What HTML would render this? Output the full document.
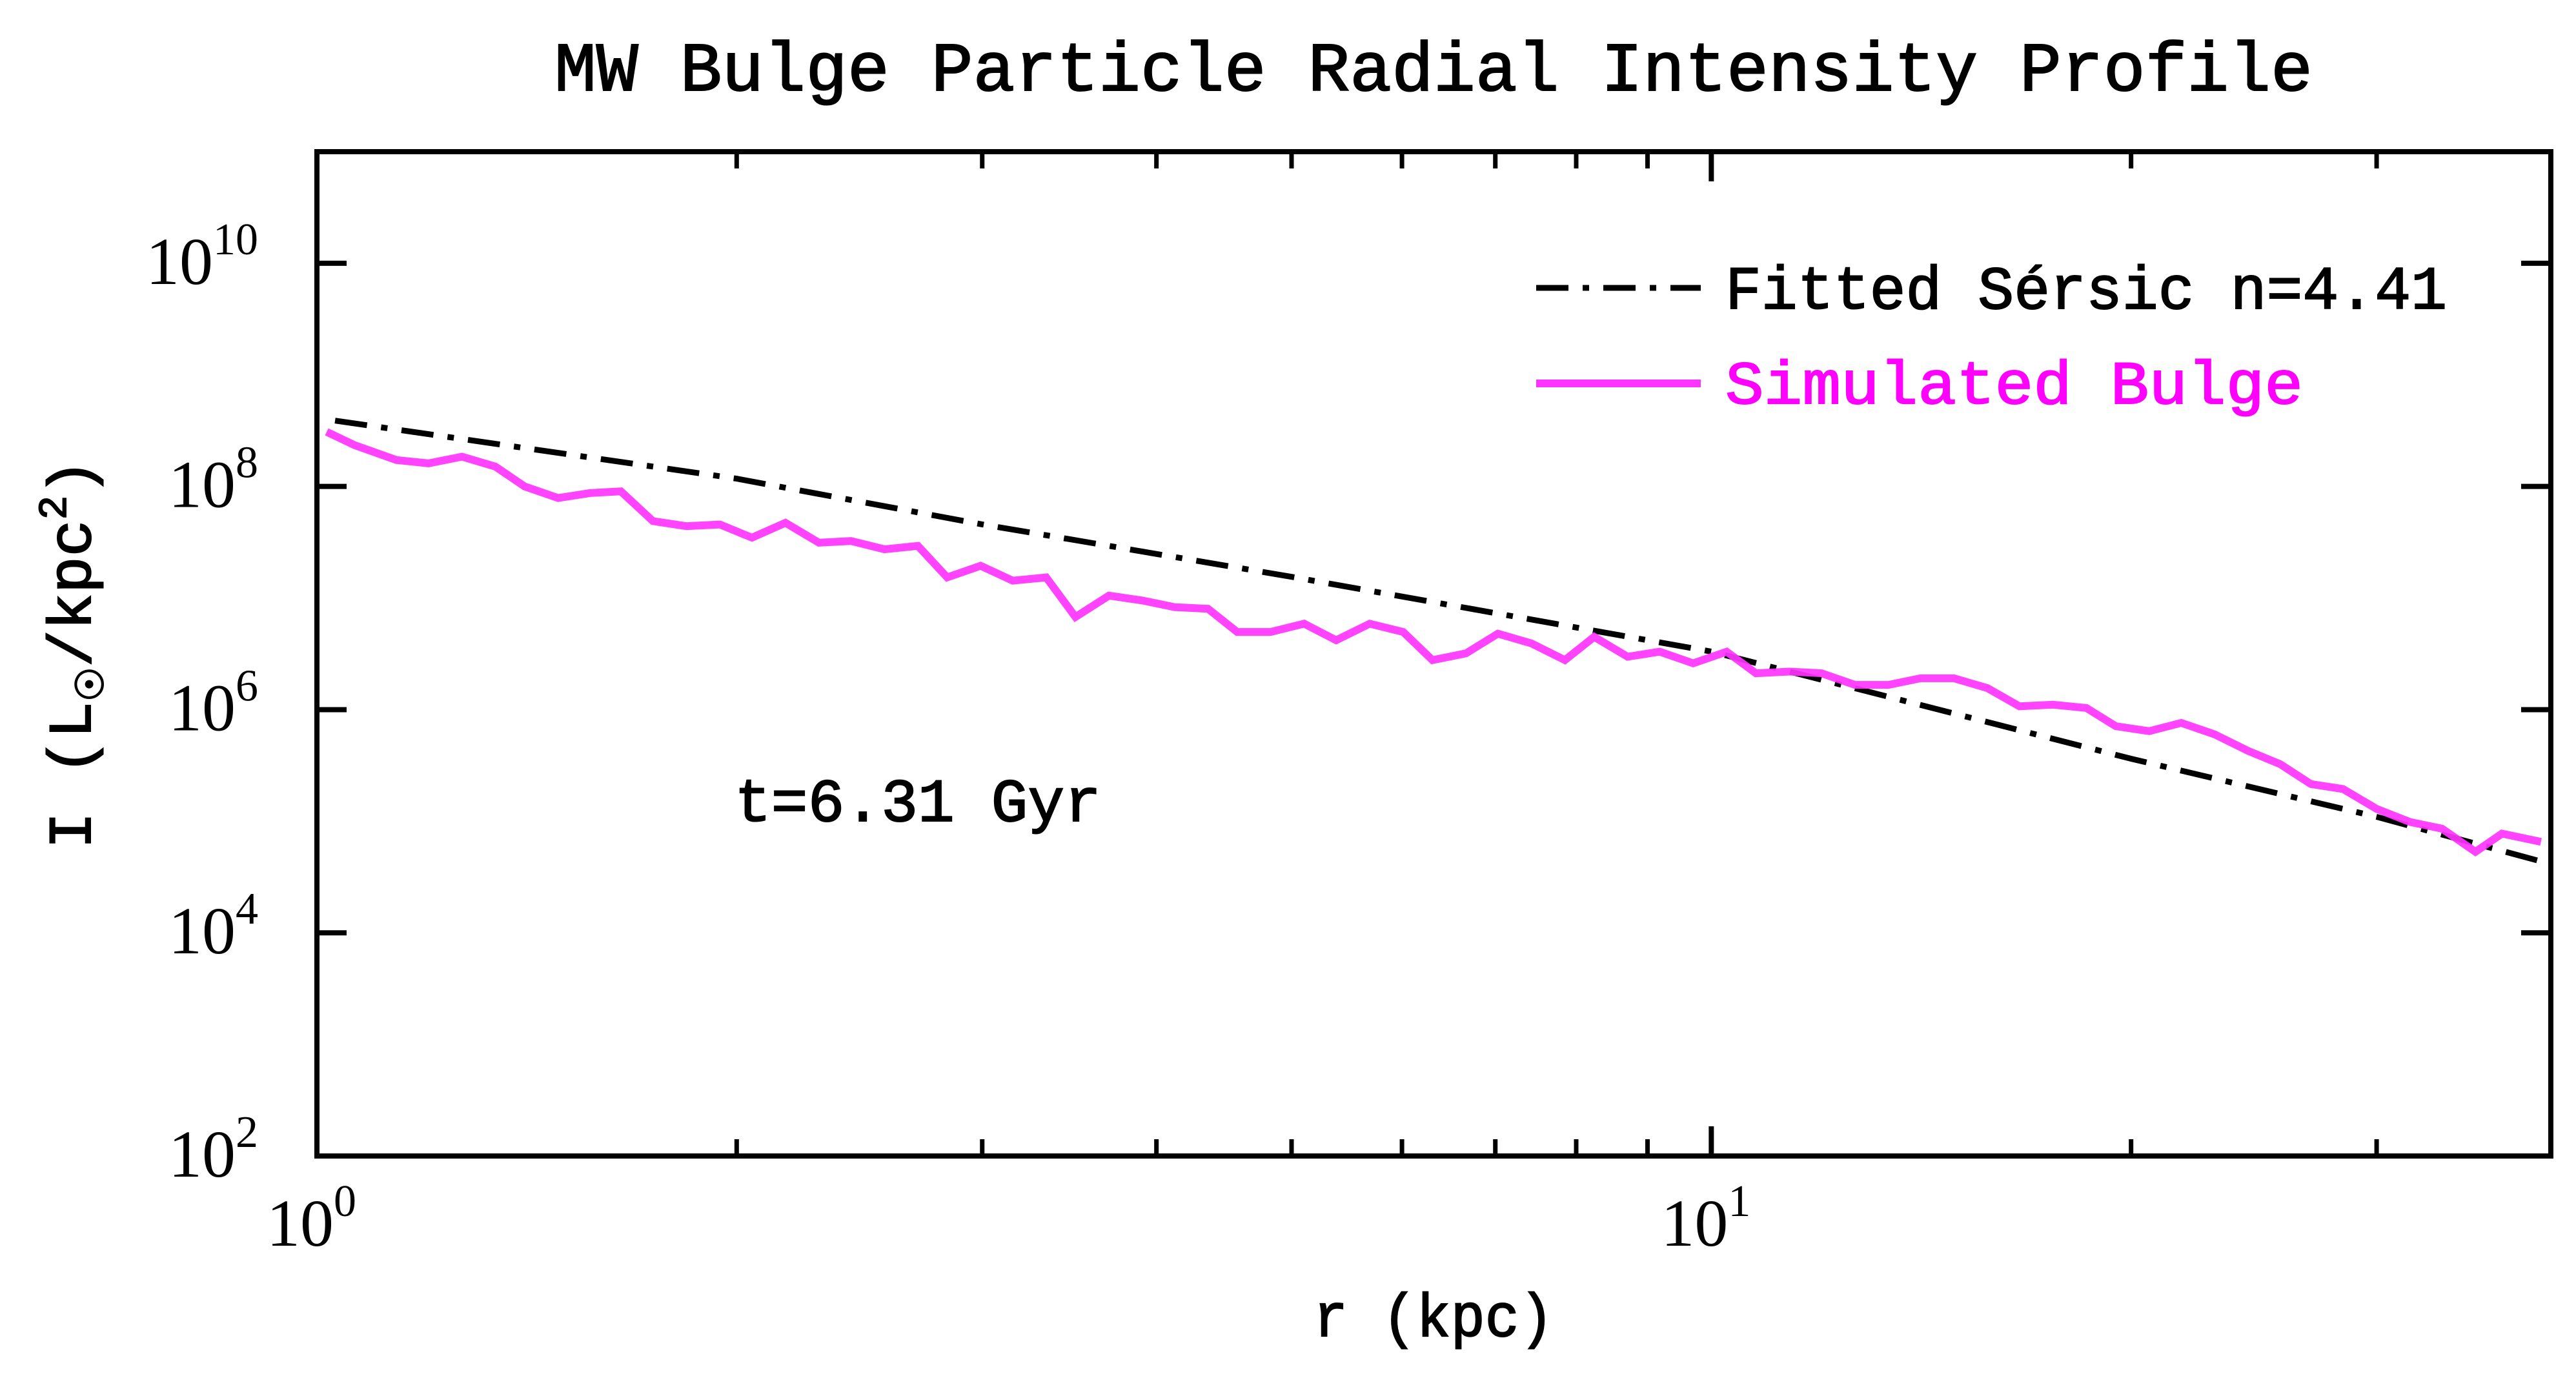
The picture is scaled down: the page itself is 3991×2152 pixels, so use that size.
<!DOCTYPE html>
<html><head><meta charset="utf-8"><style>
html,body{margin:0;padding:0;background:#fff}
svg{display:block}
text{font-family:"Liberation Mono","DejaVu Sans Mono",monospace;fill:#000}
.ser{font-family:"Liberation Serif","DejaVu Serif",serif}
</style></head><body>
<svg id="chart" width="3991" height="2152" viewBox="0 0 3991 2152" xmlns="http://www.w3.org/2000/svg">
<rect x="0" y="0" width="3991" height="2152" fill="#fff"/>
<text x="2221" y="140" font-size="108" text-anchor="middle" stroke="#000" stroke-width="2" textLength="2724" lengthAdjust="spacingAndGlyphs">MW Bulge Particle Radial Intensity Profile</text>
<g id="ticks"></g>
<g id="series"></g>
<rect x="491" y="235" width="3461" height="1556" fill="none" stroke="#000" stroke-width="8"/>
<g id="labels"></g>
<text x="2221" y="2070" font-size="95" stroke="#000" stroke-width="2" text-anchor="middle" textLength="372" lengthAdjust="spacingAndGlyphs">r (kpc)</text>
<text transform="translate(140,1013) rotate(-90)" font-size="95" stroke="#000" stroke-width="2" text-anchor="middle">I (L<tspan font-family="DejaVu Sans" font-size="60" dy="20">☉</tspan><tspan dy="-20">/kpc</tspan><tspan font-size="62" dy="-38">2</tspan><tspan dy="38">)</tspan></text>
<text x="1138" y="1272" font-size="95" stroke="#000" stroke-width="2" textLength="568" lengthAdjust="spacingAndGlyphs">t=6.31 Gyr</text>
<g>
<line x1="2380" y1="446" x2="2635" y2="446" stroke="#000" stroke-width="9" stroke-dasharray="50,22,10,22"/>
<text x="2673" y="478" font-size="95" stroke="#000" stroke-width="2" textLength="1118" lengthAdjust="spacingAndGlyphs">Fitted Sérsic n=4.41</text>
<line x1="2380" y1="594" x2="2635" y2="594" stroke="#ff33ff" stroke-width="12"/>
<text x="2673" y="625" font-size="95" fill="#ff00ff" stroke="#ff00ff" stroke-width="2" style="fill:#ff00ff" textLength="895" lengthAdjust="spacingAndGlyphs">Simulated Bulge</text>
</g>
</svg>
<script>
// log10 radius (kpc) and log10 intensity (Lsun/kpc^2)
const simLogR = [0.007,0.027,0.057,0.080,0.104,0.128,0.149,0.173,0.196,0.218,0.241,0.265,0.289,0.312,0.336,0.360,0.383,0.407,0.431,0.452,0.476,0.499,0.523,0.544,0.568,0.592,0.615,0.639,0.660,0.684,0.708,0.731,0.755,0.779,0.800,0.824,0.847,0.871,0.895,0.916,0.940,0.963,0.987,1.011,1.032,1.056,1.079,1.103,1.127,1.150,1.174,1.198,1.221,1.245,1.269,1.290,1.314,1.337,1.361,1.385,1.408,1.430,1.453,1.477,1.501,1.524,1.548,1.567,1.595];
const simLogI = [8.489,8.370,8.237,8.207,8.267,8.178,8.000,7.896,7.941,7.956,7.689,7.644,7.659,7.541,7.674,7.496,7.511,7.437,7.467,7.185,7.289,7.156,7.185,6.830,7.022,6.978,6.919,6.904,6.696,6.696,6.770,6.622,6.770,6.696,6.444,6.504,6.681,6.593,6.444,6.652,6.474,6.519,6.415,6.519,6.326,6.341,6.326,6.222,6.222,6.281,6.281,6.193,6.030,6.044,6.015,5.852,5.807,5.881,5.778,5.630,5.511,5.333,5.289,5.111,4.993,4.933,4.726,4.889,4.815];
const fitLogR = [0.013,0.301,0.477,0.699,1.000,1.301,1.477,1.595];
const fitLogI = [8.59,8.07,7.66,7.19,6.52,5.56,5.04,4.64];
const yTickExp = [2,4,6,8,10];
const xTickExp = [0,1];
const xMinor = [2,3,4,5,6,7,8,9,20,30];

const L=491,R=3952,T=235,B=1791;
const xMin=0, xMax=Math.log10(40), yMin=2, yMax=11;
function X(lr){return L+(lr-xMin)/(xMax-xMin)*(R-L);}
function Y(li){return B-(li-yMin)/(yMax-yMin)*(B-T);}
const NS='http://www.w3.org/2000/svg';
function mk(tag,attrs,parent){const e=document.createElementNS(NS,tag);for(const k in attrs)e.setAttribute(k,attrs[k]);parent.appendChild(e);return e;}
const ticks=document.getElementById('ticks'),labels=document.getElementById('labels'),series=document.getElementById('series');

yTickExp.forEach(e=>{const y=Y(e);
 let a=mk('line',{x1:L,y1:y,x2:L+46,y2:y,stroke:'#000','stroke-width':8},ticks);
 
 
 let b=mk('line',{x1:R-46,y1:y,x2:R,y2:y,stroke:'#000','stroke-width':8},ticks);
 
 
 let t=mk('text',{x:400,y:y+32,'font-size':104,'text-anchor':'end','class':'ser'},labels);
 
 
 t.textContent='10';
 let s=mk('tspan',{'font-size':70,dy:-46},t);s.textContent=String(e);
});
xTickExp.forEach(e=>{const x=X(e);
 let a=mk('line',{x1:x,y1:B-46,x2:x,y2:B,stroke:'#000','stroke-width':8},ticks);
 
 
 let b=mk('line',{x1:x,y1:T,x2:x,y2:T+46,stroke:'#000','stroke-width':8},ticks);
 
 
 let t=mk('text',{x:x-78,y:1930,'font-size':104,'class':'ser'},labels);
 
 
 t.textContent='10';
 let s=mk('tspan',{'font-size':70,dy:-46},t);s.textContent=String(e);
});
xMinor.forEach(v=>{const x=X(Math.log10(v));
 let a=mk('line',{x1:x,y1:B-26,x2:x,y2:B,stroke:'#000','stroke-width':7},ticks);
 
 
 let b=mk('line',{x1:x,y1:T,x2:x,y2:T+26,stroke:'#000','stroke-width':7},ticks);
 
 
});
const fitPts=fitLogR.map((r,i)=>X(r).toFixed(1)+','+Y(fitLogI[i]).toFixed(1)).join(' ');
let f=mk('polyline',{points:fitPts,fill:'none',stroke:'#000','stroke-width':9,'stroke-dasharray':'50,22,10,22'},series);


const simPts=simLogR.map((r,i)=>X(r).toFixed(1)+','+Y(simLogI[i]).toFixed(1)).join(' ');
let s=mk('polyline',{points:simPts,fill:'none',stroke:'#ff33ff','stroke-opacity':0.92,'stroke-width':12,'stroke-linejoin':'miter'},series);


</script>
</body></html>
